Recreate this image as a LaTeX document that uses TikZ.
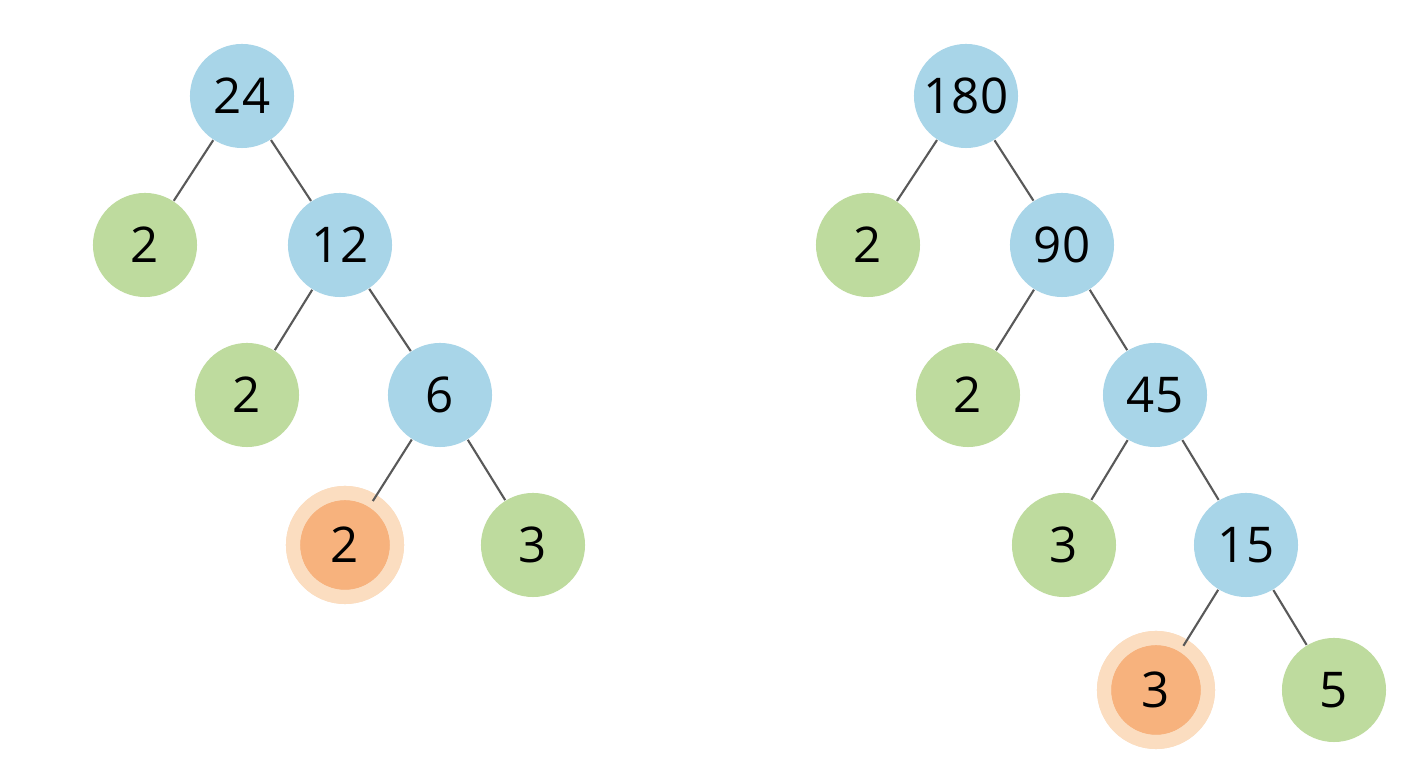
\documentclass[tikz,border=0pt]{standalone}
\usepackage{fontspec}
\setmainfont{Open Sans}
\definecolor{inner}{HTML}{A8D5E8}
\definecolor{leaf}{HTML}{BEDB9E}
\definecolor{pick}{HTML}{F7B27D}
\definecolor{glow}{HTML}{FBDDC0}
\begin{document}
\begin{tikzpicture}[x=0.01cm,y=-0.01cm,
    num/.style={circle, minimum size=1.04cm, inner sep=0pt, font=\fontsize{14}{16}\selectfont},
    comp/.style={num, fill=inner},
    prime/.style={num, fill=leaf},
    last/.style={num, fill=pick, double=glow, double distance=0.14cm, draw=glow, line width=0pt},
    edge/.style={draw=black!65, line width=0.6pt}]
    \useasboundingbox[fill=white] (0,0) rectangle (1408,768);

    % first tree
    \draw (242,96) node[comp] (a24) {24};
    \draw (145,245) node[prime] (a2) {2};
    \draw (340,245) node[comp] (a12) {12};
    \draw (247,395) node[prime] (b2) {2};
    \draw (440,395) node[comp] (a6) {6};
    \draw (345,545) node[last] (c2) {2};
    \draw (533,545) node[prime] (a3) {3};

    \draw[edge] (a24) -- (a2);
    \draw[edge] (a24) -- (a12);
    \draw[edge] (a12) -- (b2);
    \draw[edge] (a12) -- (a6);
    \draw[edge] (a6) -- (c2);
    \draw[edge] (a6) -- (a3);

    % second tree
    \draw (966,96) node[comp] (r180) {180};
    \draw (868,245) node[prime] (r2) {2};
    \draw (1062,245) node[comp] (r90) {90};
    \draw (968,395) node[prime] (s2) {2};
    \draw (1155,395) node[comp] (r45) {45};
    \draw (1064,545) node[prime] (r3) {3};
    \draw (1246,545) node[comp] (r15) {15};
    \draw (1156,690) node[last] (s3) {3};
    \draw (1334,690) node[prime] (r5) {5};

    \draw[edge] (r180) -- (r2);
    \draw[edge] (r180) -- (r90);
    \draw[edge] (r90) -- (s2);
    \draw[edge] (r90) -- (r45);
    \draw[edge] (r45) -- (r3);
    \draw[edge] (r45) -- (r15);
    \draw[edge] (r15) -- (s3);
    \draw[edge] (r15) -- (r5);
\end{tikzpicture}
\end{document}
